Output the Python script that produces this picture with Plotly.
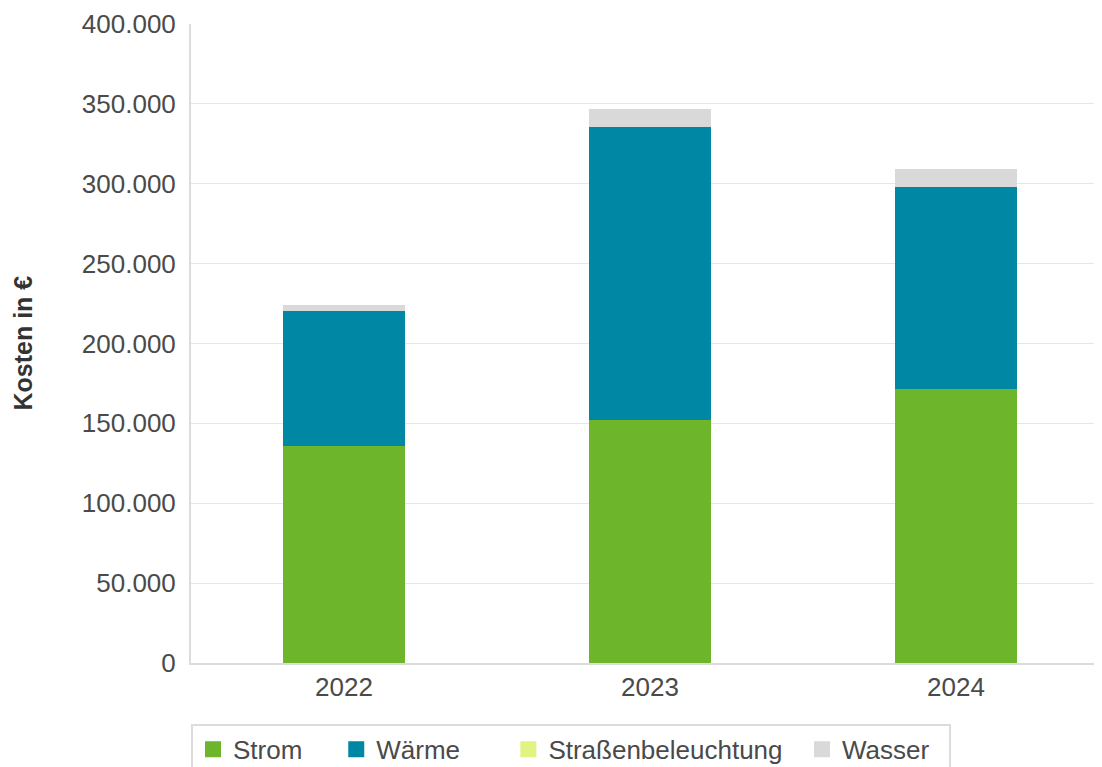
import plotly.graph_objects as go

years = ["2022", "2023", "2024"]
strom = [135600, 151900, 171700]
waerme = [85000, 183700, 126400]
strassen = [0, 0, 0]
wasser = [3300, 11500, 11100]

names = ["Strom", "Wärme", "Straßenbeleuchtung", "Wasser"]
colors = ["#6db52b", "#0087a4", "#e2f283", "#d9d9d9"]
values = [strom, waerme, strassen, wasser]
# trailing non-breaking spaces only widen legend entries (spacing as in the reference)
legend_pad = [4, 6, 2, 2]

fig = go.Figure()
for name, vals, col in zip(names, values, colors):
    fig.add_trace(go.Bar(x=years, y=vals, name=name, legendgroup=name, showlegend=False,
                         marker=dict(color=col, line=dict(width=0)), width=0.4))
# legend entries with larger square symbols
for name, col, pad in zip(names, colors, legend_pad):
    fig.add_trace(go.Scatter(x=[None], y=[None], mode="markers", name=name + "\u00a0" * pad,
                             legendgroup=name,
                             marker=dict(symbol="square", size=16, color=col), hoverinfo="skip"))

font = "Liberation Sans, Arial, sans-serif"
fig.update_layout(
    barmode="stack",
    width=1102, height=780,
    margin=dict(l=183, r=1, t=14, b=125),
    paper_bgcolor="white", plot_bgcolor="white",
    separators=",.",
    font=dict(family=font, size=26, color="#4a4a4a"),
    showlegend=True,
    legend=dict(orientation="h", x=0, xanchor="left", y=-0.0952, yanchor="top",
                bordercolor="#dcdcdc", borderwidth=2, font=dict(size=26, color="#4a4a4a"),
                traceorder="normal", itemclick=False, itemdoubleclick=False),
    xaxis=dict(showline=True, linecolor="#dcdcdc", linewidth=2, ticks="",
               tickfont=dict(size=26, color="#4a4a4a")),
    yaxis=dict(range=[0, 400000], dtick=50000, tickformat=",d", showgrid=True,
               gridcolor="#e6e6e6", gridwidth=1, zeroline=False, showline=True,
               linecolor="#dcdcdc", linewidth=2, ticks="", ticklabelstandoff=8,
               ticklabeloverflow="allow",
               tickfont=dict(size=26, color="#4a4a4a")),
    annotations=[dict(text="<b>Kosten in €</b>", textangle=-90, xref="paper", yref="paper",
                      x=(22 - 191) / 918, y=0.5, xanchor="center", yanchor="middle",
                      showarrow=False, font=dict(size=25, color="#333333", family=font))],
)

fig.write_html("out.html")
